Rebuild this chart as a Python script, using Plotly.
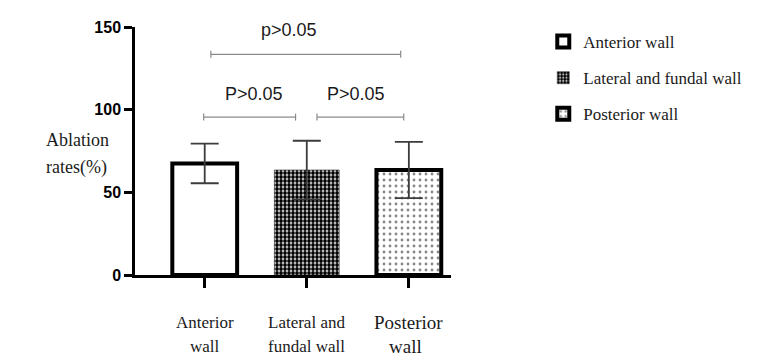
import plotly.graph_objects as go

categories = ["Anterior<br>wall", "Lateral and<br>fundal wall", "Posterior<br>wall"]
legend_names = ["Anterior wall", "Lateral and fundal wall", "Posterior wall"]
means = [67.5, 63.5, 63.5]
sds = [12.0, 17.7, 17.0]
y_ticks = [0, 50, 100, 150]
# significance brackets: start, end (category units), height (%), label, label x
br_start = [0.06, -0.01, 1.10]
br_end = [1.92, 0.89, 1.95]
br_height = [133.5, 95.5, 95.5]
br_label = ["p>0.05", "P>0.05", "P>0.05"]
br_label_x = [0.83, 0.48, 1.48]

serif = "Liberation Serif, Times New Roman, serif"
sans = "Liberation Sans, Arial, sans-serif"

patterns = [
    dict(shape=""),
    dict(shape=".", size=4, solidity=0.7, fgcolor="#000", bgcolor="white", fillmode="replace"),
    dict(shape=".", size=6, solidity=0.18, fgcolor="#888", bgcolor="white", fillmode="replace"),
]
line_widths = [4, 0.5, 4]

fig = go.Figure()
for i in range(3):
    fig.add_trace(go.Bar(
        x=[i], y=[means[i]], width=0.635, name=legend_names[i],
        legendgroup=str(i),
        marker=dict(color="white", line=dict(color="black", width=line_widths[i]),
                    pattern=patterns[i]),
        error_y=dict(type="data", array=[sds[i]], visible=True, color="#3c3c3c",
                     thickness=1.8, width=14),
    ))

for s, e, h, lab, lx in zip(br_start, br_end, br_height, br_label, br_label_x):
    fig.add_trace(go.Scatter(
        x=[s, e], y=[h, h], mode="lines+markers", showlegend=False, hoverinfo="skip",
        line=dict(color="#8a8a8a", width=1.2),
        marker=dict(symbol="line-ns-open", size=5, color="#8a8a8a", line=dict(width=1.2, color="#8a8a8a")),
    ))
    fig.add_annotation(x=lx, y=h, xref="x", yref="y", text=lab, showarrow=False,
                       yanchor="bottom", yshift=12 if h > 120 else 11,
                       font=dict(family=sans, size=18, color="#1a1a1a"))

# category labels below x axis (two lines each)
for i, cat in enumerate(categories):
    lines = cat.split("<br>")
    for k, ln in enumerate(lines):
        fig.add_annotation(x=i, y=0, xref="x", yref="y", text=ln, showarrow=False,
                           yanchor="middle", yshift=-47 - 24 * k,
                           xshift=-3 if i == 2 and k == 1 else 0,
                           font=dict(family=serif, size=19 if i == 2 else 17, color="#1a1a1a"))

# y axis title (two lines)
for k, ln in enumerate(["Ablation", "rates(%)"]):
    fig.add_annotation(x=42, y=140 + 27 * k, xref="paper", yref="paper", text=ln,
                       showarrow=False, font=dict(family=serif, size=18, color="#1a1a1a"))

fig.update_layout(
    width=759, height=356,
    margin=dict(l=135, r=302, t=27, b=81),
    plot_bgcolor="white", paper_bgcolor="white",
    barmode="overlay",
    showlegend=True,
    legend=dict(x=1.292, y=1.012, xanchor="left", yanchor="top",
                font=dict(family=serif, size=17, color="#1a1a1a"),
                tracegroupgap=11, bgcolor="rgba(0,0,0,0)"),
    xaxis=dict(range=[-0.683, 2.413], tickvals=[0, 1, 2], showticklabels=False,
               ticks="outside", ticklen=10, tickwidth=2.5, tickcolor="black",
               showline=True, linecolor="black", linewidth=2.5, showgrid=False, zeroline=False),
    yaxis=dict(range=[0, 150], tickvals=y_ticks, ticks="outside", ticklen=8, tickwidth=2.5,
               tickcolor="black", showline=True, linecolor="black", linewidth=2.5,
               showgrid=False, zeroline=False,
               tickfont=dict(family=sans, size=16, color="black", weight="bold")),
)

# convert y-title annotation pixel positions to paper coordinates
W, H = 759, 356
pw, ph = W - 135 - 302, H - 27 - 81
for a in fig.layout.annotations:
    if a.xref == "paper":
        px, py = a.x, a.y
        a.x = (px - 135) / pw
        a.y = 1 - (py - 27) / ph

fig.write_html("out.html", config={"displayModeBar": False},
               post_script="document.body.style.margin='0';document.body.style.overflow='hidden';")
